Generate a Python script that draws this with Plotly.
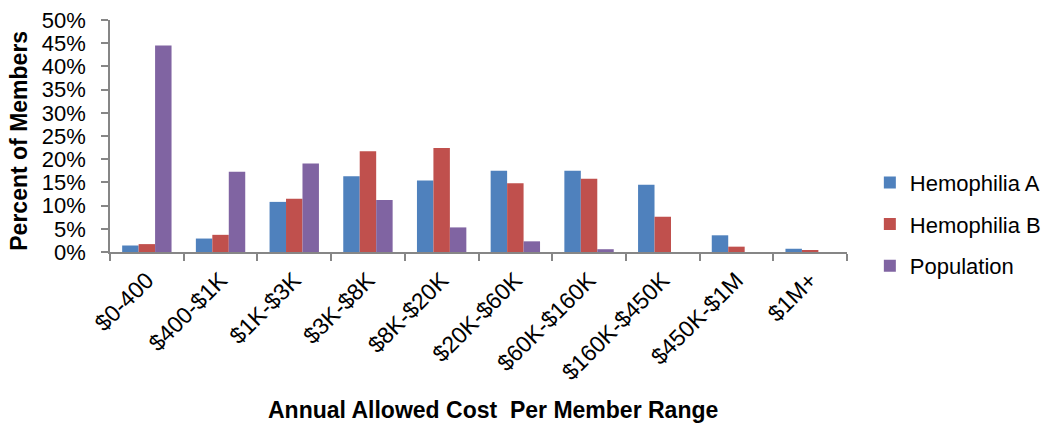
import plotly.graph_objects as go

categories = ["$0-400", "$400-$1K", "$1K-$3K", "$3K-$8K", "$8K-$20K",
              "$20K-$60K", "$60K-$160K", "$160K-$450K", "$450K-$1M", "$1M+"]
hemophilia_a = [1.4, 2.9, 10.8, 16.3, 15.4, 17.5, 17.5, 14.5, 3.6, 0.7]
hemophilia_b = [1.7, 3.7, 11.5, 21.7, 22.4, 14.8, 15.8, 7.6, 1.15, 0.35]
population = [44.5, 17.3, 19.1, 11.2, 5.3, 2.3, 0.6, 0.0, 0.0, 0.0]

y_ticks = [0, 5, 10, 15, 20, 25, 30, 35, 40, 45, 50]

FONT = "Arial, 'Liberation Sans', sans-serif"
AXIS_GREY = "#868686"

series = [
    ("Hemophilia A", hemophilia_a, "#4F81BD"),
    ("Hemophilia B", hemophilia_b, "#C0504D"),
    ("Population", population, "#8064A2"),
]

fig = go.Figure()
for name, vals, color in series:
    fig.add_trace(go.Bar(
        x=categories, y=vals, name=name, legendgroup=name,
        marker=dict(color=color, line=dict(width=0)),
    ))

fig.update_layout(
    width=1058, height=426,
    margin=dict(l=110, r=205, t=20, b=174),
    paper_bgcolor="white", plot_bgcolor="white",
    font=dict(family=FONT, color="black", size=22),
    barmode="group", bargap=0.33, bargroupgap=0,
    showlegend=True,
    legend=dict(
        x=1.031, xanchor="left", y=0.12, yanchor="middle",
        font=dict(family=FONT, size=22, color="black"),
        traceorder="grouped", tracegroupgap=10, itemwidth=30,
        bgcolor="rgba(0,0,0,0)",
    ),
    xaxis=dict(
        type="category", showline=True, linecolor=AXIS_GREY, linewidth=1.5,
        ticks="outside", tickson="boundaries", ticklen=7, tickcolor=AXIS_GREY,
        tickwidth=1.5, tickangle=-45, tickfont=dict(family=FONT, size=23),
        ticklabelstandoff=4,
        showgrid=False, zeroline=False, automargin=False,
    ),
    yaxis=dict(
        range=[0, 50], tickvals=y_ticks, ticktext=[f"{v}%" for v in y_ticks],
        showline=True, linecolor=AXIS_GREY, linewidth=1.5,
        ticks="outside", ticklen=7, tickcolor=AXIS_GREY, tickwidth=1.5,
        tickfont=dict(family=FONT, size=22), ticklabelstandoff=11,
        showgrid=False, zeroline=False, automargin=False,
    ),
    annotations=[
        dict(text="<b>Annual Allowed Cost  Per Member Range</b>",
             xref="paper", yref="paper", x=0.52, y=-0.68,
             xanchor="center", yanchor="middle", showarrow=False,
             font=dict(family=FONT, size=23, color="black")),
        dict(text="<b>Percent of Members</b>",
             xref="paper", yref="paper", x=-0.124, y=0.478,
             xanchor="center", yanchor="middle", showarrow=False, textangle=-90,
             font=dict(family=FONT, size=23, color="black")),
    ],
)

fig.write_html("out.html")
